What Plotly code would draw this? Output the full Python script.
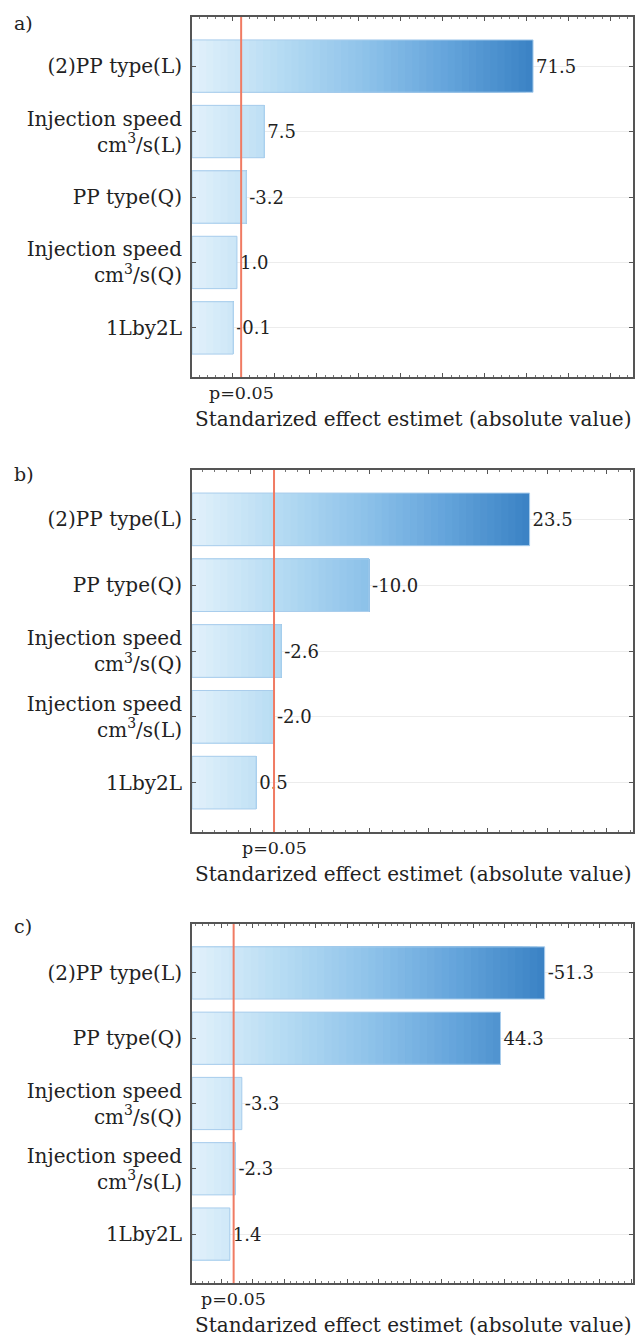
import plotly.graph_objects as go
from plotly.colors import sample_colorscale

# ---------------- data ----------------
panel_tags = ["a)", "b)", "c)"]

factors_a = ["(2)PP type(L)", "Injection speed<br>cm<sup>3</sup>/s(L)", "PP type(Q)",
             "Injection speed<br>cm<sup>3</sup>/s(Q)", "1Lby2L"]
effects_a = [71.5, 7.5, -3.2, 1.0, -0.1]

factors_b = ["(2)PP type(L)", "PP type(Q)", "Injection speed<br>cm<sup>3</sup>/s(Q)",
             "Injection speed<br>cm<sup>3</sup>/s(L)", "1Lby2L"]
effects_b = [23.5, -10.0, -2.6, -2.0, 0.5]

factors_c = ["(2)PP type(L)", "PP type(Q)", "Injection speed<br>cm<sup>3</sup>/s(Q)",
             "Injection speed<br>cm<sup>3</sup>/s(L)", "1Lby2L"]
effects_c = [-51.3, 44.3, -3.3, -2.3, 1.4]

p_critical = [2.0, 2.0, 2.0]
p_label = "p=0.05"
x_title = "Standarized effect estimet (absolute value)"

# ---------------- layout config ----------------
x_ranges = [(-9.7, 95.3), (-4.9, 32.2), (-4.6, 65.3)]
x_dticks = [(10, 2), (5, 1), (5, 1)]
H = 1338
frames_px = [(17, 377), (470, 832), (924, 1283)]   # top, bottom of each plot frame
x_domain = [192 / 638, 633 / 638]
tag_y_px = [23, 474, 926]

SERIF = "DejaVu Serif"
GRAD = [[0.0, "#e2f1fb"], [0.25, "#b7dcf3"], [0.5, "#8fc3ea"], [0.75, "#64a4db"], [1.0, "#3a82c4"]]
N_STEPS = 48

fig = go.Figure()
panels = [(factors_a, effects_a), (factors_b, effects_b), (factors_c, effects_c)]

for i, (factors, effects) in enumerate(panels):
    xa = "x" if i == 0 else f"x{i+1}"
    ya = "y" if i == 0 else f"y{i+1}"
    xmin, xmax = x_ranges[i]
    absv = [abs(v) for v in effects]
    vmax = max(absv)
    cols = sample_colorscale(GRAD, [(k + 0.5) / N_STEPS for k in range(N_STEPS)])
    # stepped horizontal gradient: darker, longer segments first, lighter on top
    for k in range(N_STEPS - 1, -1, -1):
        t = xmin + (k + 1) / N_STEPS * (vmax - xmin)
        fig.add_trace(go.Bar(
            y=factors, x=[min(a, t) - xmin for a in absv], base=xmin,
            orientation="h", width=0.8,
            marker=dict(color=cols[k], line=dict(width=0)),
            xaxis=xa, yaxis=ya, showlegend=False, hoverinfo="skip"))
    # outline + value labels
    fig.add_trace(go.Bar(
        y=factors, x=[a - xmin for a in absv], base=xmin,
        orientation="h", width=0.8,
        marker=dict(color="rgba(0,0,0,0)", line=dict(color="#a9cdec", width=1)),
        text=[f"{v:.1f}" for v in effects], textposition="outside",
        textfont=dict(family=SERIF, size=18, color="#222"),
        constraintext="none", cliponaxis=False,
        xaxis=xa, yaxis=ya, showlegend=False, name=panel_tags[i]))

    top, bot = frames_px[i]
    yd = [1 - bot / H, 1 - top / H]
    xkey = "xaxis" if i == 0 else f"xaxis{i+1}"
    ykey = "yaxis" if i == 0 else f"yaxis{i+1}"
    dt, mdt = x_dticks[i]
    fig.update_layout(**{
        xkey: dict(domain=x_domain, anchor=ya, range=[xmin, xmax], showgrid=False,
                   zeroline=False, showticklabels=False, ticks="inside", ticklen=4,
                   tick0=0, dtick=dt, tickcolor="#555", tickwidth=1,
                   minor=dict(ticks="inside", ticklen=2, dtick=mdt, tickcolor="#777", showgrid=False),
                   showline=True, linecolor="#555", linewidth=2, mirror="ticks",
                   automargin=False, fixedrange=True),
        ykey: dict(domain=yd, anchor=xa, type="category", range=[4.75, -0.75],
                   showgrid=True, gridcolor="#ececec", gridwidth=1,
                   ticks="inside", ticklen=4, tickcolor="#555", ticklabelstandoff=4,
                   showline=True, linecolor="#555", linewidth=2, mirror="ticks",
                   tickfont=dict(family=SERIF, size=20, color="#222"),
                   automargin=False, fixedrange=True),
    })
    # p = 0.05 reference line
    fig.add_shape(type="line", xref=xa, yref=f"{ya} domain", x0=p_critical[i], x1=p_critical[i],
                  y0=0, y1=1, line=dict(color="#f07b63", width=2))
    fig.add_annotation(xref=xa, yref=f"{ya} domain", x=p_critical[i], y=0, yanchor="middle",
                       yshift=-16, text=p_label, showarrow=False,
                       font=dict(family=SERIF, size=17.5, color="#222"))
    fig.add_annotation(xref=f"{xa} domain", yref=f"{ya} domain", x=0.5, y=0, yanchor="middle",
                       yshift=-42, text=x_title, showarrow=False,
                       font=dict(family=SERIF, size=20, color="#222"))
    fig.add_annotation(xref="paper", yref="paper", x=12 / 638, y=1 - tag_y_px[i] / H,
                       xanchor="left", yanchor="middle", text=panel_tags[i], showarrow=False,
                       font=dict(family=SERIF, size=19, color="#222"))

fig.update_layout(
    template="none", width=638, height=1338,
    margin=dict(l=0, r=0, t=0, b=0),
    paper_bgcolor="white", plot_bgcolor="white",
    barmode="overlay", bargap=0.2, showlegend=False,
)

fig.write_html("out.html")
